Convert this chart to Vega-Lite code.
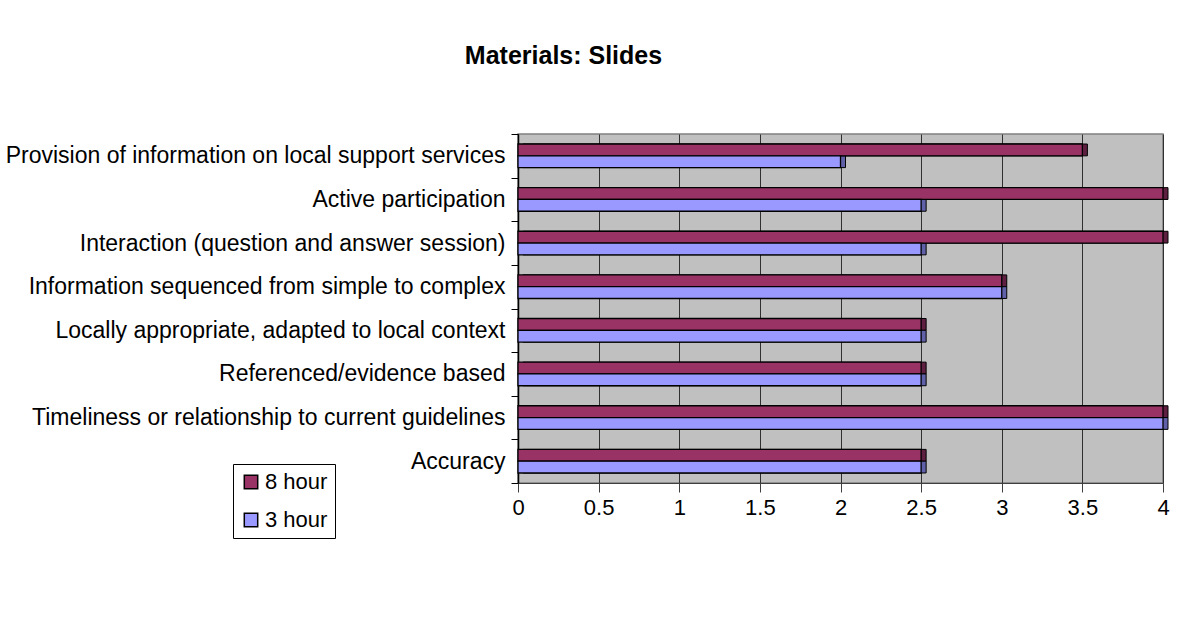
{
  "$schema": "https://vega.github.io/schema/vega-lite/v6.json",
  "autosize": "none",
  "width": 645,
  "height": 349,
  "padding": {"left": 518, "top": 134, "right": 19, "bottom": 154},
  "background": "white",
  "title": {
    "text": "Materials: Slides",
    "anchor": "middle",
    "frame": "group",
    "dx": -277,
    "offset": 54,
    "fontSize": 25,
    "fontWeight": "bold",
    "font": "Liberation Sans",
    "color": "black"
  },
  "data": {
    "values": [
      {"item": "Provision of information on local support services", "session": "8 hour", "score": 3.5},
      {"item": "Provision of information on local support services", "session": "3 hour", "score": 2.0},
      {"item": "Active participation", "session": "8 hour", "score": 4.0},
      {"item": "Active participation", "session": "3 hour", "score": 2.5},
      {"item": "Interaction (question and answer session)", "session": "8 hour", "score": 4.0},
      {"item": "Interaction (question and answer session)", "session": "3 hour", "score": 2.5},
      {"item": "Information sequenced from simple to complex", "session": "8 hour", "score": 3.0},
      {"item": "Information sequenced from simple to complex", "session": "3 hour", "score": 3.0},
      {"item": "Locally appropriate, adapted to local context", "session": "8 hour", "score": 2.5},
      {"item": "Locally appropriate, adapted to local context", "session": "3 hour", "score": 2.5},
      {"item": "Referenced/evidence based", "session": "8 hour", "score": 2.5},
      {"item": "Referenced/evidence based", "session": "3 hour", "score": 2.5},
      {"item": "Timeliness or relationship to current guidelines", "session": "8 hour", "score": 4.0},
      {"item": "Timeliness or relationship to current guidelines", "session": "3 hour", "score": 4.0},
      {"item": "Accuracy", "session": "8 hour", "score": 2.5},
      {"item": "Accuracy", "session": "3 hour", "score": 2.5}
    ]
  },
  "encoding": {
    "y": {
      "field": "item",
      "type": "nominal",
      "sort": null,
      "scale": {"paddingInner": 0, "paddingOuter": 0},
      "axis": {
        "title": null,
        "labelFontSize": 23,
        "labelColor": "black",
        "labelPadding": 6,
        "labelLimit": 520,
        "domainColor": "black",
        "domainWidth": 1.5,
        "tickColor": "black",
        "tickSize": 7,
        "tickBand": "extent",
        "grid": false
      }
    },
    "yOffset": {
      "field": "session",
      "type": "nominal",
      "sort": ["8 hour", "3 hour"],
      "scale": {"paddingInner": 0, "paddingOuter": 0.85}
    },
    "x": {
      "field": "score",
      "type": "quantitative",
      "scale": {"domain": [0, 4], "nice": false, "zero": true},
      "axis": {
        "title": null,
        "values": [0, 0.5, 1, 1.5, 2, 2.5, 3, 3.5, 4],
        "format": "~g",
        "labelFontSize": 22,
        "labelColor": "black",
        "labelPadding": 5,
        "labelFlush": false,
        "domainColor": "#404040",
        "tickColor": "#404040",
        "tickSize": 9,
        "grid": true,
        "gridColor": "#303030",
        "gridWidth": 1
      }
    }
  },
  "layer": [
    {
      "mark": {"type": "bar", "xOffset": 5, "yOffset": -7, "stroke": "black", "strokeWidth": 1},
      "encoding": {
        "fill": {
          "field": "session",
          "type": "nominal",
          "scale": {"domain": ["8 hour", "3 hour"], "range": ["#5e1f40", "#6060a8"]},
          "legend": null
        }
      }
    },
    {
      "mark": {"type": "bar", "yOffset": -3, "stroke": "black", "strokeWidth": 1.3},
      "encoding": {
        "color": {
          "field": "session",
          "type": "nominal",
          "scale": {"domain": ["8 hour", "3 hour"], "range": ["#993366", "#9999FF"]},
          "legend": {
            "title": null,
            "orient": "none",
            "legendX": -285,
            "legendY": 330,
            "direction": "vertical",
            "symbolType": "square",
            "symbolSize": 180,
            "symbolStrokeColor": "black",
            "symbolStrokeWidth": 1.5,
            "labelFontSize": 22,
            "labelColor": "black",
            "labelOffset": 3,
            "rowPadding": 16,
            "padding": 7,
            "strokeColor": "black",
            "fillColor": "white"
          }
        }
      }
    }
  ],
  "resolve": {
    "scale": {"color": "independent", "fill": "independent"},
    "legend": {"color": "independent", "fill": "independent"}
  },
  "config": {
    "font": "Liberation Sans",
    "view": {"fill": "#C0C0C0", "stroke": "#808080", "strokeWidth": 1.5}
  }
}
